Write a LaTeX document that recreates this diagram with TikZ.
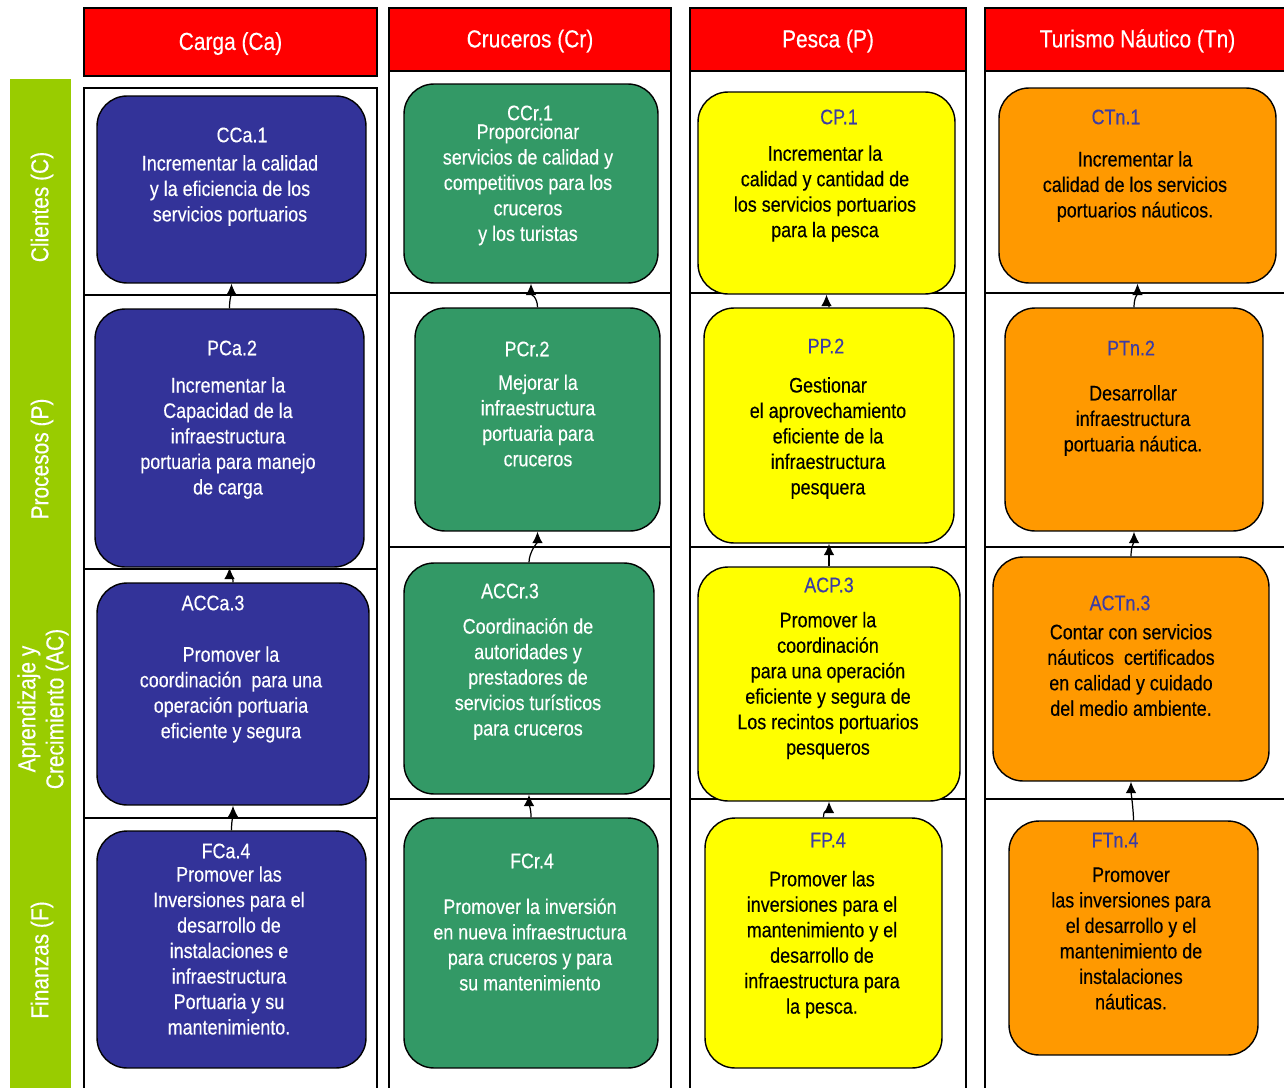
\documentclass[tikz,border=0pt]{standalone}
\usepackage{fontspec}
\setmainfont{Liberation Sans}[FakeStretch=0.85,FakeBold=0.3]
\usetikzlibrary{arrows.meta}
\definecolor{bandgreen}{RGB}{153,204,0}
\definecolor{hdrred}{RGB}{255,0,0}
\definecolor{boxblue}{RGB}{51,51,153}
\definecolor{boxgreen}{RGB}{51,153,102}
\definecolor{boxyellow}{RGB}{255,255,0}
\definecolor{boxorange}{RGB}{255,153,0}
\definecolor{labblue}{RGB}{60,60,165}

\begin{document}
\begin{tikzpicture}[x=0.02cm,y=-0.02cm,>={Latex[length=6.5pt,width=6pt]},
  obj/.style={draw,line width=0.8pt,rounded corners=0.6cm,inner sep=0pt},
  txt/.style={align=center,inner sep=0pt,font=\fontsize{12pt}{14.5pt}\selectfont},
  hdr/.style={draw,line width=0.8pt,fill=hdrred,text=white,text height=10pt,text depth=1pt,
    font=\fontsize{14pt}{16pt}\selectfont},
  rowlab/.style={rotate=90,text=white,align=center,font=\fontsize{14pt}{16pt}\selectfont},
  frame/.style={draw,line width=0.7pt},
  link/.style={->,line width=0.7pt}]
\useasboundingbox (0,0) rectangle (1284,1088);

% perspectives band
\fill[bandgreen] (10,79) rectangle (71,1095);
\node[rowlab] (rowC) at (42,207) {Clientes (C)};
\node[rowlab] (rowP) at (42,459) {Procesos (P)};
\node[rowlab] (rowAC) at (43,709) {Aprendizaje y\\Crecimiento (AC)};
\node[rowlab] (rowF) at (42,960) {Finanzas (F)};

% column headers
\node[hdr,minimum width=5.86cm,minimum height=1.36cm] (carga) at (230.5,42) {Carga (Ca)};
\node[hdr,minimum width=5.64cm,minimum height=1.26cm] (cruc) at (530,39.5) {Cruceros (Cr)};
\node[hdr,minimum width=5.52cm,minimum height=1.26cm] (pesca) at (828,39.5) {Pesca (P)};
\node[hdr,minimum width=6.1cm,minimum height=1.26cm] (turis) at (1137.5,39.5) {Turismo Náutico (Tn)};

% column frames
\draw[frame] (84,88) rectangle (377,1095);
\draw[frame] (389,71) rectangle (671,1095);
\draw[frame] (690,71) rectangle (966,1095);
\draw[frame] (985,71) rectangle (1295,1095);
\foreach \y in {295,569,818} \draw[frame] (84,\y) -- (377,\y);
\foreach \y in {293,547,799}
  \draw[frame] (389,\y) -- (671,\y) (690,\y) -- (966,\y) (985,\y) -- (1295,\y);

% Carga
\node[obj,fill=boxblue,minimum width=5.38cm,minimum height=3.74cm] (CCa1) at (231.5,189.5) {};
\node[txt,text=white] (CCa1l) at (242,135) {CCa.1};
\node[txt,text=white] (CCa1t) at (230,190.5) {Incrementar la calidad\\y la eficiencia de los\\servicios portuarios};
\node[obj,fill=boxblue,minimum width=5.38cm,minimum height=5.16cm] (PCa2) at (229.5,438) {};
\node[txt,text=white] (PCa2l) at (232,348) {PCa.2};
\node[txt,text=white] (PCa2t) at (228,438) {Incrementar la\\Capacidad de la\\infraestructura\\portuaria para manejo\\de carga};
\node[obj,fill=boxblue,minimum width=5.44cm,minimum height=4.44cm] (ACCa3) at (233,694) {};
\node[txt,text=white] (ACCa3l) at (213,603) {ACCa.3};
\node[txt,text=white] (ACCa3t) at (231,694.5) {Promover la\\coordinación~ para una\\operación portuaria\\eficiente y segura};
\node[obj,fill=boxblue,minimum width=5.38cm,minimum height=4.74cm] (FCa4) at (231.5,949.5) {};
\node[txt,text=white] (FCa4l) at (226,851) {FCa.4};
\node[txt,text=white] (FCa4t) at (229,950.5) {Promover las\\Inversiones para el\\desarrollo de\\instalaciones e\\infraestructura\\Portuaria y su\\mantenimiento.};

% Cruceros
\node[obj,fill=boxgreen,minimum width=5.08cm,minimum height=3.98cm] (CCr1) at (531,183.5) {};
\node[txt,text=white] (CCr1l) at (530,113) {CCr.1};
\node[txt,text=white] (CCr1t) at (528,184.5) {Proporcionar\\servicios de calidad y\\competitivos para los\\cruceros\\y los turistas};
\node[obj,fill=boxgreen,minimum width=4.9cm,minimum height=4.46cm] (PCr2) at (537.5,419.5) {};
\node[txt,text=white] (PCr2l) at (527,349) {PCr.2};
\node[txt,text=white] (PCr2t) at (538,420.5) {Mejorar la\\infraestructura\\portuaria para\\cruceros};
\node[obj,fill=boxgreen,minimum width=5cm,minimum height=4.62cm] (ACCr3) at (529,678.5) {};
\node[txt,text=white] (ACCr3l) at (510,591) {ACCr.3};
\node[txt,text=white] (ACCr3t) at (528,679) {Coordinación de\\autoridades y\\prestadores de\\servicios turísticos\\para cruceros};
\node[obj,fill=boxgreen,minimum width=5.08cm,minimum height=5cm] (FCr4) at (531,943) {};
\node[txt,text=white] (FCr4l) at (532,861) {FCr.4};
\node[txt,text=white] (FCr4t) at (530,944.5) {Promover la inversión\\en nueva infraestructura\\para cruceros y para\\su mantenimiento};

% Pesca
\node[obj,fill=boxyellow,minimum width=5.14cm,minimum height=4.04cm] (CP1) at (826.5,193) {};
\node[txt,text=labblue] (CP1l) at (839,117) {CP.1};
\node[txt] (CP1t) at (825,193.5) {Incrementar la\\calidad y cantidad de\\los servicios portuarios\\para la pesca};
\node[obj,fill=boxyellow,minimum width=5cm,minimum height=4.7cm] (PP2) at (829,425.5) {};
\node[txt,text=labblue] (PP2l) at (826,346) {PP.2};
\node[txt] (PP2t) at (828,438) {Gestionar\\el aprovechamiento\\eficiente de la\\infraestructura\\pesquera};
\node[obj,fill=boxyellow,minimum width=5.24cm,minimum height=4.68cm] (ACP3) at (829,684) {};
\node[txt,text=labblue] (ACP3l) at (829,585) {ACP.3};
\node[txt] (ACP3t) at (828,685.5) {Promover la\\coordinación\\para una operación\\eficiente y segura de\\Los recintos portuarios\\pesqueros};
\node[obj,fill=boxyellow,minimum width=4.74cm,minimum height=5cm] (FP4) at (823.5,943) {};
\node[txt,text=labblue] (FP4l) at (828,840) {FP.4};
\node[txt] (FP4t) at (822,944.5) {Promover las\\inversiones para el\\mantenimiento y el\\desarrollo de\\infraestructura para\\la pesca.};

% Turismo Nautico
\node[obj,fill=boxorange,minimum width=5.54cm,minimum height=3.9cm] (CTn1) at (1137.5,185.5) {};
\node[txt,text=labblue] (CTn1l) at (1116,117) {CTn.1};
\node[txt] (CTn1t) at (1135,186.5) {Incrementar la\\calidad de los servicios\\portuarios náuticos.};
\node[obj,fill=boxorange,minimum width=5.16cm,minimum height=4.46cm] (PTn2) at (1134,419.5) {};
\node[txt,text=labblue] (PTn2l) at (1131,348) {PTn.2};
\node[txt] (PTn2t) at (1133,420.5) {Desarrollar\\infraestructura\\portuaria náutica.};
\node[obj,fill=boxorange,minimum width=5.52cm,minimum height=4.48cm] (ACTn3) at (1131,669) {};
\node[txt,text=labblue] (ACTn3l) at (1120,603) {ACTn.3};
\node[txt] (ACTn3t) at (1131,670) {Contar con servicios\\náuticos~ certificados\\en calidad y cuidado\\del medio ambiente.};
\node[obj,fill=boxorange,minimum width=4.98cm,minimum height=4.68cm] (FTn4) at (1133.5,938) {};
\node[txt,text=labblue] (FTn4l) at (1115,840) {FTn.4};
\node[txt] (FTn4t) at (1131,938.5) {Promover\\las inversiones para\\el desarrollo y el\\mantenimiento de\\instalaciones\\náuticas.};

% cause-effect links
\foreach \a/\b in {PCa2/CCa1,ACCa3/PCa2,FCa4/ACCa3,PCr2/CCr1,ACCr3/PCr2,FCr4/ACCr3,
                   PP2/CP1,ACP3/PP2,FP4/ACP3,PTn2/CTn1,ACTn3/PTn2,FTn4/ACTn3}
  \draw[link] (\a.north) .. controls +(0,-10) and +(0,10) .. (\b.south);
\end{tikzpicture}
\end{document}
